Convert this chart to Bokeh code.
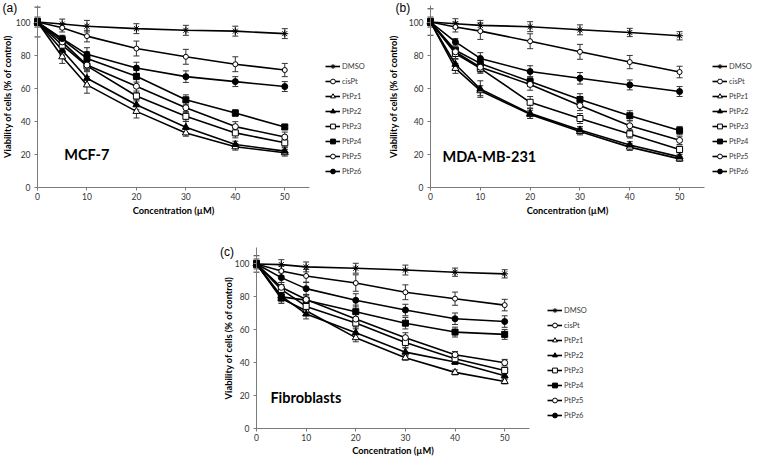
from bokeh.plotting import figure
from bokeh.models import (ColumnDataSource, Whisker, TeeHead, Legend, LegendItem,
                          Label, FixedTicker, Range1d, Spacer)
from bokeh.layouts import column, row
from bokeh.embed import file_html
from bokeh.resources import INLINE

# ---------------- data ----------------
conc = [0, 5, 10, 20, 30, 40, 50]
series_names = ["DMSO", "cisPt", "PtPz1", "PtPz2", "PtPz3", "PtPz4", "PtPz5", "PtPz6"]
x_ticks = [0, 10, 20, 30, 40, 50]
y_ticks = [0, 20, 40, 60, 80, 100]
x_max = 55
y_max = 110

# (a) MCF-7
mcf7_DMSO = [100, 98.8, 97.5, 96, 95, 94.5, 93]
mcf7_cisPt = [100, 96.5, 91.5, 84, 79, 74.5, 71]
mcf7_PtPz1 = [100, 79, 62, 46, 33, 24.6, 21]
mcf7_PtPz2 = [100, 83, 66, 50, 36.4, 26, 22]
mcf7_PtPz3 = [100, 86, 73.5, 55.3, 43, 33, 27]
mcf7_PtPz4 = [100, 89.5, 78, 67.2, 53, 45, 36.6]
mcf7_PtPz5 = [100, 88, 74, 61.2, 48.2, 36.8, 30.5]
mcf7_PtPz6 = [100, 90, 80.5, 72.2, 67, 64, 61]
mcf7_err_DMSO = [9, 3, 3.5, 3, 3, 3, 3]
mcf7_err_cisPt = [3, 2.5, 3.5, 4.5, 4.5, 4.5, 4]
mcf7_err_PtPz1 = [2, 4, 5, 4, 2, 2, 2]
mcf7_err_PtPz2 = [2, 3, 4, 3, 3.5, 2, 2]
mcf7_err_PtPz3 = [2, 3, 3, 3, 3, 3, 2.5]
mcf7_err_PtPz4 = [2, 2, 4, 3.5, 3, 2, 1.5]
mcf7_err_PtPz5 = [2, 2, 3, 4, 3, 3, 3]
mcf7_err_PtPz6 = [2, 2, 4, 3.5, 3.5, 3, 3]

# (b) MDA-MB-231
mda_DMSO = [100, 99, 98, 97.2, 95.3, 93.7, 91.7]
mda_cisPt = [100, 97, 94.5, 88.4, 82, 75.8, 69.8]
mda_PtPz1 = [100, 72, 58.5, 44.2, 33.8, 24.4, 17.3]
mda_PtPz2 = [100, 74.5, 59.5, 44.8, 34.8, 25.7, 18.5]
mda_PtPz3 = [100, 81, 72, 51.5, 41.7, 32.4, 23]
mda_PtPz4 = [100, 83, 75, 64, 53.2, 43.4, 34.4]
mda_PtPz5 = [100, 82, 72.7, 62.3, 49.5, 37.3, 28.5]
mda_PtPz6 = [100, 88, 78, 70.1, 66, 62, 58]
mda_err_DMSO = [8, 3, 3, 3, 3, 2.5, 2.5]
mda_err_cisPt = [3, 3, 5, 4.5, 4.5, 4, 3.5]
mda_err_PtPz1 = [2, 3, 3, 2.5, 2, 2, 1.5]
mda_err_PtPz2 = [2, 3, 5, 3, 2, 2, 1.5]
mda_err_PtPz3 = [2, 3, 3, 3.5, 3, 2.5, 2]
mda_err_PtPz4 = [2, 2, 3.5, 3, 3.5, 3, 2.5]
mda_err_PtPz5 = [2, 2, 3, 3.5, 3, 3, 2.5]
mda_err_PtPz6 = [2, 2, 3.5, 3.5, 3.5, 3, 3]

# (c) Fibroblasts
fib_DMSO = [100, 99.6, 98.2, 97.4, 96.3, 95, 94]
fib_cisPt = [100, 95.7, 92.7, 88.4, 82.8, 78.9, 75]
fib_PtPz1 = [100, 79, 71.6, 55.2, 43, 34.1, 28.6]
fib_PtPz2 = [100, 80.5, 69.6, 58.2, 46.4, 40.4, 32.1]
fib_PtPz3 = [100, 84.5, 74.2, 64.1, 52.3, 42.4, 35.3]
fib_PtPz4 = [100, 80, 78, 71, 64, 58.6, 57.2]
fib_PtPz5 = [100, 85.8, 78.4, 66.5, 55.2, 44.8, 40]
fib_PtPz6 = [100, 91.7, 85, 77.9, 72, 66.7, 65]
fib_err_DMSO = [5, 3, 3, 3, 3, 2.5, 2.5]
fib_err_cisPt = [3, 3, 4, 5, 4.5, 4, 3.5]
fib_err_PtPz1 = [2, 3, 3, 2.5, 1.5, 1.5, 1.5]
fib_err_PtPz2 = [2, 3, 3, 3.5, 2.5, 1.5, 2]
fib_err_PtPz3 = [2, 3, 3, 3.5, 3, 2, 1.5]
fib_err_PtPz4 = [2, 3, 3.5, 4, 3.5, 3, 3]
fib_err_PtPz5 = [2, 3, 3, 3.5, 3, 2, 2]
fib_err_PtPz6 = [2, 3, 4, 4, 3.5, 3.5, 3.5]

# ---------------- styles ----------------
marker_style = {
    "DMSO": ("asterisk", "black", 7),
    "cisPt": ("circle", "white", 5),
    "PtPz1": ("triangle", "white", 7),
    "PtPz2": ("triangle", "black", 7),
    "PtPz3": ("square", "white", 6),
    "PtPz4": ("square", "black", 6),
    "PtPz5": ("circle", "white", 6),
    "PtPz6": ("circle", "black", 6),
}

CAL = "Lato"


def make_panel(vals, errs, W, H, x0px, x55px, y0px, ytoppx,
               letter, letter_pos, cell, cell_pos, legend_pos,
               ylab_standoff, xlab_standoff):
    # pixel geometry -> ranges (frame covers the whole figure; axes are pinned at 0)
    sx = (x55px - x0px) / x_max
    sy = (y0px - ytoppx) / y_max
    xr = Range1d(-x0px / sx, (W - x0px) / sx)
    yr = Range1d(-(H - y0px) / sy, y0px / sy)
    p = figure(width=W, height=H, output_backend="svg", toolbar_location=None,
               x_range=xr, y_range=yr,
               min_border_left=0, min_border_right=0,
               min_border_top=0, min_border_bottom=0)
    p.outline_line_color = None
    p.grid.visible = False
    p.background_fill_color = "white"
    p.border_fill_color = "white"

    items = []
    for name in series_names:
        y = vals[name]
        e = errs[name]
        src = ColumnDataSource(dict(x=conc, y=y,
                                    upper=[a + b for a, b in zip(y, e)],
                                    lower=[a - b for a, b in zip(y, e)]))
        w = Whisker(source=src, base="x", upper="upper", lower="lower",
                    dimension="height", line_color="#333333", line_width=1,
                    upper_head=TeeHead(size=6, line_color="#333333", line_width=1),
                    lower_head=TeeHead(size=6, line_color="#333333", line_width=1))
        p.add_layout(w)
        lr = p.line("x", "y", source=src, line_color="black", line_width=1.6)
        mk, fill, sz = marker_style[name]
        sr = p.scatter("x", "y", source=src, marker=mk, size=sz,
                       fill_color=fill, line_color="black", line_width=1)
        items.append(LegendItem(label=name, renderers=[lr, sr]))

    leg = Legend(items=items, location=legend_pos, orientation="vertical",
                 glyph_width=15, glyph_height=12, label_height=12, spacing=3,
                 label_standoff=2, padding=0, margin=0,
                 border_line_color=None, background_fill_alpha=0,
                 label_text_font=CAL, label_text_font_size="7.5px",
                 label_text_color="#3a3a3a")
    p.add_layout(leg)

    for ax in (p.xaxis[0], p.yaxis[0]):
        ax.fixed_location = 0
        ax.axis_line_color = "#7a7a7a"
        ax.axis_line_width = 1
        ax.major_tick_line_color = "#7a7a7a"
        ax.major_tick_out = 3
        ax.major_tick_in = 0
        ax.minor_tick_line_color = None
        ax.major_label_text_font = CAL
        ax.major_label_text_font_size = "8.5px"
        ax.major_label_text_color = "#333333"
        ax.axis_label_text_font = CAL
        ax.axis_label_text_font_style = "bold"
        ax.axis_label_text_color = "black"
        ax.axis_label_text_font_size = "9.3px"
    p.xaxis.bounds = (0, x_max)
    p.yaxis.bounds = (0, y_max)
    p.xaxis.ticker = FixedTicker(ticks=x_ticks)
    p.yaxis.ticker = FixedTicker(ticks=y_ticks)
    p.xaxis.axis_label = "Concentration (µM)"
    p.yaxis.axis_label = "Viability of cells (% of control)"
    p.xaxis.major_label_standoff = 2
    p.yaxis.major_label_standoff = 4
    p.xaxis.axis_label_standoff = xlab_standoff
    p.yaxis.axis_label_standoff = ylab_standoff

    p.add_layout(Label(x=letter_pos[0], y=letter_pos[1], x_units="screen", y_units="screen",
                       text=letter, text_font="Liberation Sans", text_font_size="12px",
                       text_baseline="top", text_align="left", text_color="black"))
    p.add_layout(Label(x=cell_pos[0], y=cell_pos[1], text=cell, text_font=CAL,
                       text_font_style="bold", text_font_size="14.5px",
                       text_baseline="middle", text_align="left", text_color="black"))
    return p


mcf7_vals = dict(zip(series_names, [mcf7_DMSO, mcf7_cisPt, mcf7_PtPz1, mcf7_PtPz2,
                                    mcf7_PtPz3, mcf7_PtPz4, mcf7_PtPz5, mcf7_PtPz6]))
mcf7_errs = dict(zip(series_names, [mcf7_err_DMSO, mcf7_err_cisPt, mcf7_err_PtPz1, mcf7_err_PtPz2,
                                    mcf7_err_PtPz3, mcf7_err_PtPz4, mcf7_err_PtPz5, mcf7_err_PtPz6]))
mda_vals = dict(zip(series_names, [mda_DMSO, mda_cisPt, mda_PtPz1, mda_PtPz2,
                                   mda_PtPz3, mda_PtPz4, mda_PtPz5, mda_PtPz6]))
mda_errs = dict(zip(series_names, [mda_err_DMSO, mda_err_cisPt, mda_err_PtPz1, mda_err_PtPz2,
                                   mda_err_PtPz3, mda_err_PtPz4, mda_err_PtPz5, mda_err_PtPz6]))
fib_vals = dict(zip(series_names, [fib_DMSO, fib_cisPt, fib_PtPz1, fib_PtPz2,
                                   fib_PtPz3, fib_PtPz4, fib_PtPz5, fib_PtPz6]))
fib_errs = dict(zip(series_names, [fib_err_DMSO, fib_err_cisPt, fib_err_PtPz1, fib_err_PtPz2,
                                   fib_err_PtPz3, fib_err_PtPz4, fib_err_PtPz5, fib_err_PtPz6]))

pa = make_panel(mcf7_vals, mcf7_errs, 382, 220, 37, 309, 187, 5,
                "(a)", (2, 219.5), "MCF-7", (5.4, 19.7), (325, 43), 0, 2)
pb = make_panel(mda_vals, mda_errs, 383, 220, 48, 322, 187, 5,
                "(b)", (13, 219.5), "MDA-MB-231", (2.4, 19.0), (330, 43), 7, 2)
pc = make_panel(fib_vals, fib_errs, 439, 237, 71, 344, 208, 27,
                "(c)", (34.4, 212.8), "Fibroblasts", (2.8, 19.0), (362, 36), -2, 1)

layout = column(row(pa, pb), row(Spacer(width=185, height=237), pc))

open("out.html", "w").write(file_html(layout, INLINE))
